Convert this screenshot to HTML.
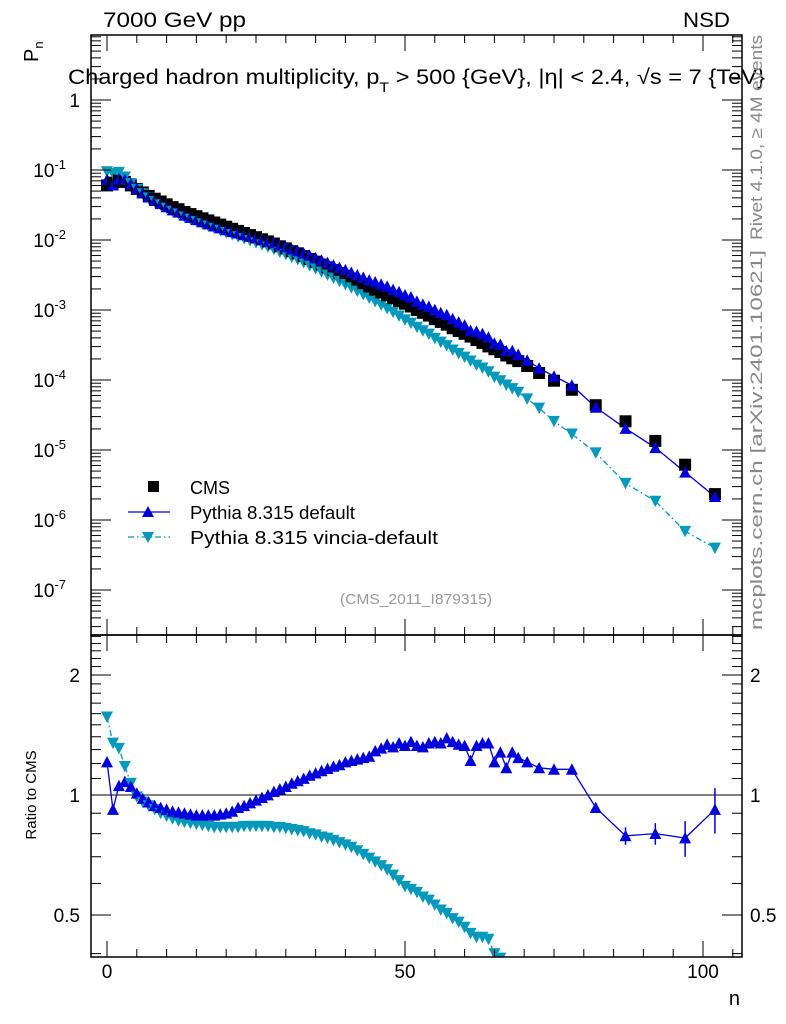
<!DOCTYPE html>
<html><head><meta charset="utf-8"><style>
html,body{margin:0;padding:0;background:#fff;overflow:hidden;width:786px;height:1024px;}
svg{display:block;font-family:"Liberation Sans",sans-serif;}
</style></head><body>
<svg id="chart" width="786" height="1024" viewBox="0 0 786 1024" xmlns="http://www.w3.org/2000/svg">
<rect width="786" height="1024" fill="#fff"/>
<text x="103" y="27" font-size="21" textLength="143" lengthAdjust="spacingAndGlyphs">7000 GeV pp</text>
<text x="683" y="27" font-size="21" textLength="47" lengthAdjust="spacingAndGlyphs">NSD</text>
<text x="68" y="84" font-size="21" textLength="697" lengthAdjust="spacingAndGlyphs">Charged hadron multiplicity, p<tspan font-size="14" dy="8">T</tspan><tspan dy="-8"> &gt; 500 {GeV}, |η| &lt; 2.4, √s = 7 {TeV}</tspan></text>
<text transform="translate(38,62) rotate(-90)" font-size="20">P<tspan font-size="13" dy="5">n</tspan></text>
<text transform="translate(36,795) rotate(-90)" font-size="15" text-anchor="middle">Ratio to CMS</text>
<text x="740" y="1005" font-size="20" text-anchor="end">n</text>
<text transform="translate(762,240) rotate(-90)" font-size="17" fill="#888" textLength="205" lengthAdjust="spacingAndGlyphs">Rivet 4.1.0, ≥ 4M events</text>
<text transform="translate(762,630) rotate(-90)" font-size="17" fill="#888" textLength="380" lengthAdjust="spacingAndGlyphs">mcplots.cern.ch [arXiv:2401.10621]</text>
<text x="340" y="604" font-size="15" fill="#999" textLength="152" lengthAdjust="spacingAndGlyphs">(CMS_2011_I879315)</text>
<g id="marks"></g>
<g>
  <rect x="148" y="481" width="11" height="11" fill="#000"/>
  <text x="190" y="494" font-size="18" textLength="40" lengthAdjust="spacingAndGlyphs">CMS</text>
  <line x1="128" y1="512" x2="170" y2="512" stroke="#0000dd" stroke-width="1.3"/>
  <polygon points="148,506 142,517 154,517" fill="#0000dd"/>
  <text x="190" y="519" font-size="18" textLength="165" lengthAdjust="spacingAndGlyphs">Pythia 8.315 default</text>
  <line x1="128" y1="537" x2="170" y2="537" stroke="#0099bb" stroke-width="1.3" stroke-dasharray="6,3,1.5,3"/>
  <polygon points="142,532 154,532 148,543" fill="#0099bb"/>
  <text x="190" y="544" font-size="18" textLength="248" lengthAdjust="spacingAndGlyphs">Pythia 8.315 vincia-default</text>
</g>
<g id="frames"></g>
</svg>
<script>
const nBins=[0,1,2,3,4,5,6,7,8,9,10,11,12,13,14,15,16,17,18,19,20,21,22,23,24,25,26,27,28,29,30,31,32,33,34,35,36,37,38,39,40,41,42,43,44,45,46,47,48,49,50,51,52,53,54,55,56,57,58,59,60,61,62,63,64,65,66,67,68,69,70.5,72.5,75,78,82,87,92,97,102];
const cmsLog=[-1.22,-1.18,-1.15,-1.17,-1.22,-1.27,-1.32,-1.37,-1.41,-1.45,-1.49,-1.53,-1.56,-1.60,-1.63,-1.66,-1.69,-1.72,-1.75,-1.78,-1.81,-1.84,-1.87,-1.90,-1.93,-1.96,-1.99,-2.02,-2.05,-2.09,-2.12,-2.16,-2.19,-2.23,-2.27,-2.31,-2.35,-2.39,-2.43,-2.47,-2.51,-2.55,-2.59,-2.63,-2.67,-2.71,-2.75,-2.79,-2.83,-2.87,-2.91,-2.95,-3.00,-3.04,-3.08,-3.13,-3.17,-3.21,-3.26,-3.30,-3.34,-3.38,-3.43,-3.47,-3.52,-3.56,-3.60,-3.65,-3.69,-3.73,-3.80,-3.90,-4.01,-4.14,-4.36,-4.59,-4.87,-5.21,-5.63];
const ratioDefault=[1.21,0.92,1.055,1.08,1.05,1.01,0.98,0.96,0.94,0.93,0.92,0.91,0.905,0.90,0.895,0.89,0.89,0.89,0.89,0.895,0.90,0.91,0.93,0.94,0.955,0.97,0.985,1.0,1.02,1.035,1.05,1.07,1.085,1.10,1.12,1.135,1.15,1.165,1.18,1.19,1.21,1.22,1.23,1.24,1.25,1.29,1.31,1.34,1.32,1.35,1.33,1.36,1.33,1.32,1.35,1.36,1.35,1.39,1.36,1.34,1.33,1.22,1.33,1.35,1.35,1.21,1.28,1.17,1.28,1.24,1.21,1.17,1.16,1.16,0.93,0.79,0.80,0.78,0.92];
const ratioVincia=[1.57,1.35,1.31,1.18,1.07,0.99,0.96,0.94,0.92,0.9,0.885,0.872,0.862,0.855,0.85,0.845,0.84,0.835,0.83,0.83,0.83,0.83,0.83,0.835,0.835,0.835,0.835,0.835,0.83,0.83,0.825,0.82,0.815,0.81,0.80,0.795,0.785,0.78,0.77,0.76,0.75,0.74,0.725,0.71,0.695,0.68,0.665,0.65,0.63,0.61,0.59,0.58,0.57,0.555,0.545,0.53,0.515,0.505,0.49,0.48,0.466,0.45,0.44,0.44,0.435,0.40,0.39,0.38,0.37,0.36,0.34,0.316,0.263,0.234,0.209,0.13,0.138,0.112,0.17];
const ratioErr=[0,0,0,0,0,0,0,0,0,0,0,0,0,0,0,0,0,0,0,0,0,0,0,0,0,0,0,0,0,0,0,0,0,0,0,0,0,0,0,0,0,0,0,0,0,0,0,0,0,0,0,0,0,0,0,0,0,0,0,0,0.01,0.01,0.01,0.01,0.015,0.015,0.02,0.02,0.02,0.02,0.02,0.02,0.02,0.025,0.03,0.04,0.05,0.08,0.12];
const mainTickLabels=["1","10","10","10","10","10","10","10"];
const mainTickExps=["","-1","-2","-3","-4","-5","-6","-7"];
const ratioTickVals=[2,1,0.5];
const xTickVals=[0,50,100];

const NS="http://www.w3.org/2000/svg";
const X0=91,X1=742,MT=35,MB=635,RB=957;
const xs=n=>107+5.96*n;
const ym=lg=>100-70*lg;
const yr=r=>795-398.6*Math.log10(r);
function mk(tag,attrs,parent){const e=document.createElementNS(NS,tag);for(const k in attrs)e.setAttribute(k,attrs[k]);parent.appendChild(e);return e;}
const marks=document.getElementById('marks'),frames=document.getElementById('frames');

const defs=mk('defs',{},marks);
const c1=mk('clipPath',{id:'cm'},defs);mk('rect',{x:X0,y:MT,width:X1-X0,height:MB-MT},c1);
const c2=mk('clipPath',{id:'cr'},defs);mk('rect',{x:X0,y:MB,width:X1-X0,height:RB-MB},c2);
const gm=mk('g',{'clip-path':'url(#cm)'},marks);


const gr=mk('g',{'clip-path':'url(#cr)'},marks);



function tri(g,x,y,up,col,name){
  const s=6;
  const p=up?`${x},${y-s} ${x-s},${y+s*0.9} ${x+s},${y+s*0.9}`:`${x-s},${y-s*0.9} ${x+s},${y-s*0.9} ${x},${y+s}`;
  const e=mk('polygon',{points:p,fill:col},g);
  
  
}
const rl=mk('line',{x1:X0,x2:X1,y1:yr(1),y2:yr(1),stroke:'#000','stroke-width':1},gr);



let pd='',pv='',rd='',rv='';
nBins.forEach((n,i)=>{
  const x=xs(n);
  pd+=(i?'L':'M')+x+','+ym(cmsLog[i]+Math.log10(ratioDefault[i]));
  pv+=(i?'L':'M')+x+','+ym(cmsLog[i]+Math.log10(ratioVincia[i]));
  rd+=(i?'L':'M')+x+','+yr(ratioDefault[i]);
  rv+=(i?'L':'M')+x+','+yr(ratioVincia[i]);
});
[[gm,pd,'#0000dd','','default-line'],[gm,pv,'#0099bb','6,3,1.5,3','vincia-line'],[gr,rd,'#0000dd','','ratio-default-line'],[gr,rv,'#0099bb','6,3,1.5,3','ratio-vincia-line']].forEach(a=>{
  const e=mk('path',{d:a[1],fill:'none',stroke:a[2],'stroke-width':1.3},a[0]);
  if(a[3])e.setAttribute('stroke-dasharray',a[3]);
  
  
});
nBins.forEach((n,i)=>{
  const x=xs(n);
  const yc=ym(cmsLog[i]);
  const sq=mk('rect',{x:x-6,y:yc-6,width:12,height:12,fill:'#000'},gm);
  
  
  const lv=cmsLog[i]+Math.log10(ratioVincia[i]);
  const ld=cmsLog[i]+Math.log10(ratioDefault[i]);
  if(ratioErr[i]>0.03){
    const ev=mk('line',{x1:x,x2:x,y1:ym(lv+ratioErr[i]*0.6),y2:ym(lv-ratioErr[i]*0.6),stroke:'#0099bb','stroke-width':1.5},gm);
    
    
    const er=mk('line',{x1:x,x2:x,y1:yr(ratioDefault[i]+ratioErr[i]),y2:yr(ratioDefault[i]-ratioErr[i]),stroke:'#0000dd','stroke-width':1.5},gr);
    
    
  }
  tri(gm,x,ym(lv),false,'#0099bb','vincia-point');
  tri(gm,x,ym(ld),true,'#0000dd','default-point');
  tri(gr,x,yr(ratioVincia[i]),false,'#0099bb','ratio-vincia-point');
  tri(gr,x,yr(ratioDefault[i]),true,'#0000dd','ratio-default-point');
});

function frame(y0,y1,name){const e=mk('rect',{x:X0,y:y0,width:X1-X0,height:y1-y0,fill:'none',stroke:'#000','stroke-width':1.5},frames);}
frame(MT,MB,'main-frame');frame(MB,RB,'ratio-frame');
function ln(x1,y1,x2,y2){mk('line',{x1,y1,x2,y2,stroke:'#000','stroke-width':1},frames);}
for(let n=0;n<=105;n+=5){
  const x=xs(n),L=(n%50===0)?16:8;
  [MT,MB].forEach(t=>ln(x,t,x,t+L));
  [MB,RB].forEach(b=>ln(x,b,x,b-L));
}
xTickVals.forEach(v=>{
  const t=mk('text',{x:xs(v),y:978,'font-size':19,'text-anchor':'middle'},frames);t.textContent=v;
  
  
});
for(let d=1;d>=-8;d--){
  for(let m=1;m<10;m++){
    const y=ym(d-1+Math.log10(m===1?10:m));
    if(y<MT||y>MB)continue;
    const L=m===1?20:10;
    ln(X0,y,X0+L,y);ln(X1,y,X1-L,y);
  }
}
mainTickLabels.forEach((lab,i)=>{
  const y=ym(-i);
  const t=mk('text',{x:80,y:y+7,'font-size':19,'text-anchor':'end'},frames);
  
  
  if(mainTickExps[i]){t.setAttribute('x',66);t.textContent=lab;const s=mk('tspan',{'font-size':13,dy:-8},t);s.textContent=mainTickExps[i];}
  else t.textContent=lab;
});
[0.4,0.5,0.6,0.7,0.8,0.9,1,1.1,1.2,1.3,1.4,1.5,1.6,1.7,1.8,1.9,2,2.1,2.2,2.3,2.4,2.5].forEach(v=>{
  const y=yr(v);if(y<MB||y>RB)return;
  const L=(v===0.5||v===1||v===2)?20:10;
  ln(X0,y,X0+L,y);ln(X1,y,X1-L,y);
});
ratioTickVals.forEach(v=>{
  const t=mk('text',{x:80,y:yr(v)+7,'font-size':19,'text-anchor':'end'},frames);t.textContent=v;
  
  
  const t2=mk('text',{x:750,y:yr(v)+7,'font-size':19},frames);t2.textContent=v;
  
  
});
</script>
</body></html>
